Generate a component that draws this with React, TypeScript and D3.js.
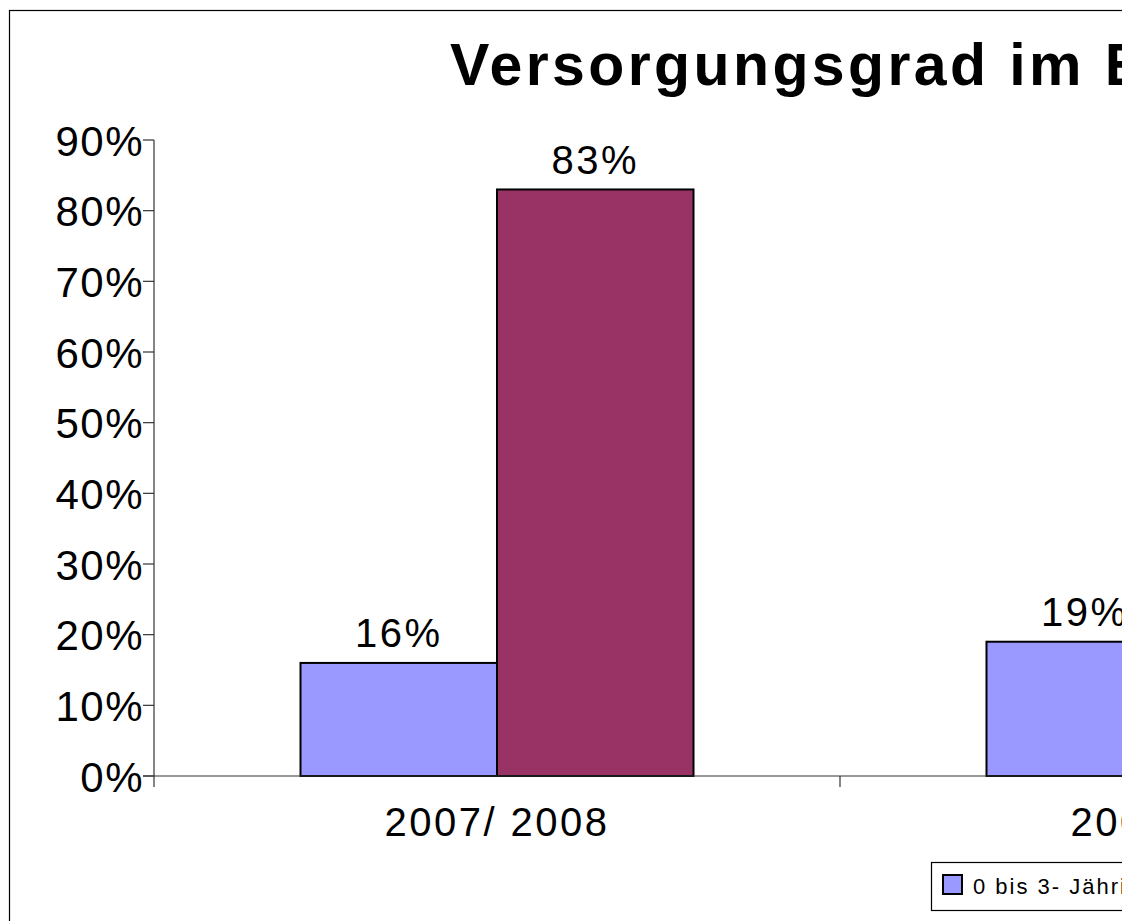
import React from "react";
import * as d3 from "d3";

const title = "Versorgungsgrad im Elementarbereich";
const categories = ["2007/ 2008", "2008/ 2009"];
const seriesNames = ["0 bis 3- Jährige", "3 bis 6- Jährige"];
const seriesColors = ["#9999FF", "#993366"];
const valuesUnder3 = [0.16, 0.19];
const values3to6 = [0.83, 0.85];
const yTicks = [0, 0.1, 0.2, 0.3, 0.4, 0.5, 0.6, 0.7, 0.8, 0.9];

const W = 1122;
const H = 921;
const FONT = "'Liberation Sans', Arial, Helvetica, sans-serif";

export default function App() {
  const plotLeft = 154;
  const catStep = 686;
  const x = d3
    .scaleBand<string>()
    .domain(categories)
    .range([plotLeft, plotLeft + catStep * categories.length])
    .paddingInner(0)
    .paddingOuter(0);
  const xs = d3
    .scaleBand<string>()
    .domain(seriesNames)
    .range([0, x.bandwidth()])
    .paddingInner(0)
    .paddingOuter(0.7455);
  const y = d3.scaleLinear().domain([0, 0.9]).range([776, 140]);
  const fmt = d3.format(".0%");
  const series = [valuesUnder3, values3to6];
  const axisColor = "#333";

  return (
    <svg
      width={W}
      height={H}
      style={{ position: "absolute", left: 0, top: 0, overflow: "hidden", background: "#fff" }}
      fontFamily={FONT}
    >
      <rect x={9.5} y={10.5} width={1400} height={1200} fill="#fff" stroke="#000" strokeWidth={1.2} />
      <text x={450} y={85} fontSize={59} fontWeight="bold" letterSpacing={3.4} fill="#000">
        {title}
      </text>

      {/* y axis */}
      <line x1={plotLeft} x2={plotLeft} y1={y(0.9)} y2={787} stroke={axisColor} strokeWidth={1.2} />
      {yTicks.map((t) => (
        <g key={t}>
          <line x1={143} x2={plotLeft} y1={y(t)} y2={y(t)} stroke={axisColor} strokeWidth={1.2} />
          <text x={144} y={y(t) + 15.5} textAnchor="end" fontSize={42} letterSpacing={1.5} fill="#000">
            {fmt(t)}
          </text>
        </g>
      ))}

      {/* bars */}
      {categories.map((c, ci) =>
        series.map((vals, si) => {
          const bx = (x(c) as number) + (xs(seriesNames[si]) as number);
          const bw = xs.bandwidth();
          return (
            <g key={c + si}>
              <rect
                x={bx}
                y={y(vals[ci])}
                width={bw}
                height={y(0) - y(vals[ci])}
                fill={seriesColors[si]}
                stroke="#000"
                strokeWidth={2}
              />
              <text
                x={bx + bw / 2}
                y={y(vals[ci]) - 15.5}
                textAnchor="middle"
                fontSize={40}
                letterSpacing={2.5}
                fill="#000"
              >
                {fmt(vals[ci])}
              </text>
            </g>
          );
        })
      )}

      {/* x axis */}
      <line x1={143} x2={x.range()[1]} y1={y(0)} y2={y(0)} stroke={axisColor} strokeWidth={1.2} />
      {categories.map((c) => (
        <g key={c}>
          <line
            x1={(x(c) as number) + x.bandwidth()}
            x2={(x(c) as number) + x.bandwidth()}
            y1={y(0)}
            y2={787}
            stroke={axisColor}
            strokeWidth={1.2}
          />
          <text
            x={(x(c) as number) + x.bandwidth() / 2}
            y={836}
            textAnchor="middle"
            fontSize={40}
            letterSpacing={2.5}
            fill="#000"
          >
            {c}
          </text>
        </g>
      ))}

      {/* legend */}
      <rect x={931.5} y={862.5} width={600} height={48} fill="#fff" stroke="#000" strokeWidth={1.2} />
      {seriesNames.map((s, i) => (
        <g key={s} transform={`translate(${943 + i * 280},875)`}>
          <rect x={0} y={0} width={19} height={19} fill={seriesColors[i]} stroke="#000" strokeWidth={2} />
          <text x={30} y={19} fontSize={22} letterSpacing={2} fill="#000">
            {s}
          </text>
        </g>
      ))}
    </svg>
  );
}
